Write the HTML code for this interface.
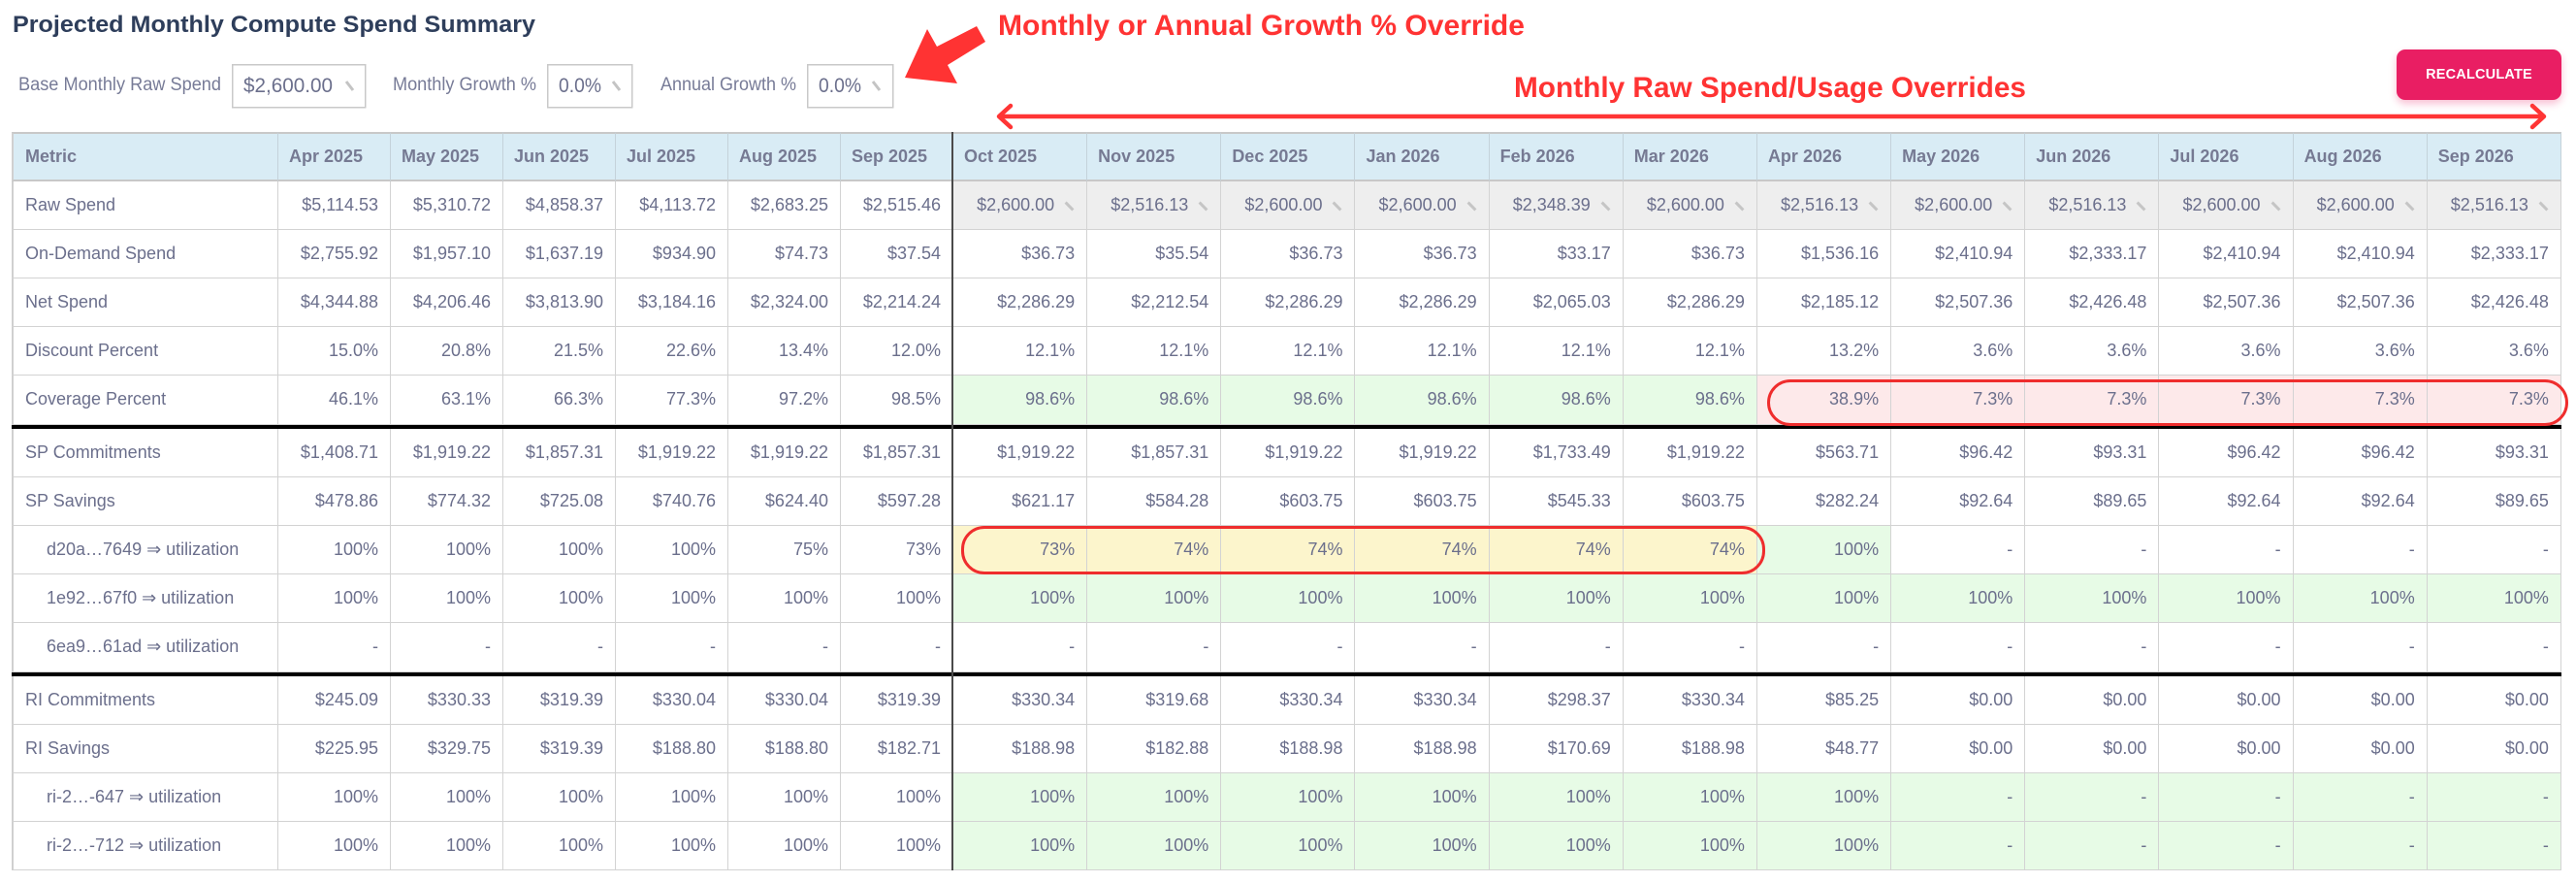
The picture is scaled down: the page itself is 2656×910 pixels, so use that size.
<!DOCTYPE html>
<html>
<head>
<meta charset="utf-8">
<style>
html,body{margin:0;padding:0;}
body{width:2656px;height:910px;position:relative;overflow:hidden;background:#fff;font-family:"Liberation Sans","DejaVu Sans",sans-serif;color:#6b6f8c;}
.r{position:absolute;left:12px;width:2629px;height:50px;display:flex;font-size:18px;}
.r>div{box-sizing:border-box;height:100%;border-right:1px solid #d3d3d3;border-bottom:1px solid #d3d3d3;text-align:right;padding-right:12px;line-height:49px;white-space:nowrap;overflow:hidden;flex:none;width:138.1667px;}
.r>div:nth-child(-n+7){width:116px;}
.r>div:first-child{width:275px;text-align:left;padding-left:12px;border-left:2px solid #d0d0d0;}
.r>div.in{padding-left:34px;}
.h{top:136px;height:51px;background:#d9ecf5;font-weight:bold;color:#767a93;}
.h>div{text-align:left;padding-left:11px;border-top:2px solid #c8c8c8;border-bottom:2px solid #c8c8c8;line-height:47px;border-right-color:#c4d2da;}
.g{background:#e7fbe6;}
.y{background:#fcf5cc;}
.p{background:#fde9ea;}
.k{background:#eeeeee;padding-right:16px!important;}
.k i{display:inline-block;width:3px;height:11px;background:#c5c5c5;transform:rotate(-45deg);margin-left:14px;vertical-align:-1px;}
.thick{position:absolute;left:12px;width:2629px;height:4px;background:#000;z-index:4;}
.vsep{position:absolute;left:981px;top:136px;width:2px;height:761px;background:#4a4a4a;z-index:4;}
.oval{position:absolute;box-sizing:border-box;border:3px solid #ef2d2d;border-radius:24px;z-index:5;}
.btn{position:absolute;left:2471px;top:51px;width:170px;height:52px;background:#e91e63;border-radius:9px;color:#fff;font-weight:bold;font-size:14.5px;line-height:52px;text-align:center;box-shadow:0 4px 8px rgba(233,30,99,0.28);letter-spacing:0.2px;}
svg.ov{position:absolute;left:0;top:0;z-index:10;}
</style>
</head>
<body>

<div class="btn">RECALCULATE</div>

<div class="r h">
<div>Metric</div><div>Apr 2025</div><div>May 2025</div><div>Jun 2025</div><div>Jul 2025</div><div>Aug 2025</div><div>Sep 2025</div><div>Oct 2025</div><div>Nov 2025</div><div>Dec 2025</div><div>Jan 2026</div><div>Feb 2026</div><div>Mar 2026</div><div>Apr 2026</div><div>May 2026</div><div>Jun 2026</div><div>Jul 2026</div><div>Aug 2026</div><div>Sep 2026</div>
</div>

<div class="r" style="top:187px">
<div>Raw Spend</div><div>$5,114.53</div><div>$5,310.72</div><div>$4,858.37</div><div>$4,113.72</div><div>$2,683.25</div><div>$2,515.46</div>
<div class="k">$2,600.00<i></i></div><div class="k">$2,516.13<i></i></div><div class="k">$2,600.00<i></i></div><div class="k">$2,600.00<i></i></div><div class="k">$2,348.39<i></i></div><div class="k">$2,600.00<i></i></div><div class="k">$2,516.13<i></i></div><div class="k">$2,600.00<i></i></div><div class="k">$2,516.13<i></i></div><div class="k">$2,600.00<i></i></div><div class="k">$2,600.00<i></i></div><div class="k">$2,516.13<i></i></div>
</div>

<div class="r" style="top:237px">
<div>On-Demand Spend</div><div>$2,755.92</div><div>$1,957.10</div><div>$1,637.19</div><div>$934.90</div><div>$74.73</div><div>$37.54</div>
<div>$36.73</div><div>$35.54</div><div>$36.73</div><div>$36.73</div><div>$33.17</div><div>$36.73</div><div>$1,536.16</div><div>$2,410.94</div><div>$2,333.17</div><div>$2,410.94</div><div>$2,410.94</div><div>$2,333.17</div>
</div>

<div class="r" style="top:287px">
<div>Net Spend</div><div>$4,344.88</div><div>$4,206.46</div><div>$3,813.90</div><div>$3,184.16</div><div>$2,324.00</div><div>$2,214.24</div>
<div>$2,286.29</div><div>$2,212.54</div><div>$2,286.29</div><div>$2,286.29</div><div>$2,065.03</div><div>$2,286.29</div><div>$2,185.12</div><div>$2,507.36</div><div>$2,426.48</div><div>$2,507.36</div><div>$2,507.36</div><div>$2,426.48</div>
</div>

<div class="r" style="top:337px">
<div>Discount Percent</div><div>15.0%</div><div>20.8%</div><div>21.5%</div><div>22.6%</div><div>13.4%</div><div>12.0%</div>
<div>12.1%</div><div>12.1%</div><div>12.1%</div><div>12.1%</div><div>12.1%</div><div>12.1%</div><div>13.2%</div><div>3.6%</div><div>3.6%</div><div>3.6%</div><div>3.6%</div><div>3.6%</div>
</div>

<div class="r" style="top:387px;height:51px">
<div>Coverage Percent</div><div>46.1%</div><div>63.1%</div><div>66.3%</div><div>77.3%</div><div>97.2%</div><div>98.5%</div>
<div class="g">98.6%</div><div class="g">98.6%</div><div class="g">98.6%</div><div class="g">98.6%</div><div class="g">98.6%</div><div class="g">98.6%</div><div class="p">38.9%</div><div class="p">7.3%</div><div class="p">7.3%</div><div class="p">7.3%</div><div class="p">7.3%</div><div class="p">7.3%</div>
</div>

<div class="thick" style="top:438px"></div>

<div class="r" style="top:442px">
<div>SP Commitments</div><div>$1,408.71</div><div>$1,919.22</div><div>$1,857.31</div><div>$1,919.22</div><div>$1,919.22</div><div>$1,857.31</div>
<div>$1,919.22</div><div>$1,857.31</div><div>$1,919.22</div><div>$1,919.22</div><div>$1,733.49</div><div>$1,919.22</div><div>$563.71</div><div>$96.42</div><div>$93.31</div><div>$96.42</div><div>$96.42</div><div>$93.31</div>
</div>

<div class="r" style="top:492px">
<div>SP Savings</div><div>$478.86</div><div>$774.32</div><div>$725.08</div><div>$740.76</div><div>$624.40</div><div>$597.28</div>
<div>$621.17</div><div>$584.28</div><div>$603.75</div><div>$603.75</div><div>$545.33</div><div>$603.75</div><div>$282.24</div><div>$92.64</div><div>$89.65</div><div>$92.64</div><div>$92.64</div><div>$89.65</div>
</div>

<div class="r" style="top:542px">
<div class="in">d20a…7649 ⇒ utilization</div><div>100%</div><div>100%</div><div>100%</div><div>100%</div><div>75%</div><div>73%</div>
<div class="y">73%</div><div class="y">74%</div><div class="y">74%</div><div class="y">74%</div><div class="y">74%</div><div class="y">74%</div><div class="g">100%</div><div>-</div><div>-</div><div>-</div><div>-</div><div>-</div>
</div>

<div class="r" style="top:592px">
<div class="in">1e92…67f0 ⇒ utilization</div><div>100%</div><div>100%</div><div>100%</div><div>100%</div><div>100%</div><div>100%</div>
<div class="g">100%</div><div class="g">100%</div><div class="g">100%</div><div class="g">100%</div><div class="g">100%</div><div class="g">100%</div><div class="g">100%</div><div class="g">100%</div><div class="g">100%</div><div class="g">100%</div><div class="g">100%</div><div class="g">100%</div>
</div>

<div class="r" style="top:642px;height:51px">
<div class="in">6ea9…61ad ⇒ utilization</div><div>-</div><div>-</div><div>-</div><div>-</div><div>-</div><div>-</div>
<div>-</div><div>-</div><div>-</div><div>-</div><div>-</div><div>-</div><div>-</div><div>-</div><div>-</div><div>-</div><div>-</div><div>-</div>
</div>

<div class="thick" style="top:693px"></div>

<div class="r" style="top:697px">
<div>RI Commitments</div><div>$245.09</div><div>$330.33</div><div>$319.39</div><div>$330.04</div><div>$330.04</div><div>$319.39</div>
<div>$330.34</div><div>$319.68</div><div>$330.34</div><div>$330.34</div><div>$298.37</div><div>$330.34</div><div>$85.25</div><div>$0.00</div><div>$0.00</div><div>$0.00</div><div>$0.00</div><div>$0.00</div>
</div>

<div class="r" style="top:747px">
<div>RI Savings</div><div>$225.95</div><div>$329.75</div><div>$319.39</div><div>$188.80</div><div>$188.80</div><div>$182.71</div>
<div>$188.98</div><div>$182.88</div><div>$188.98</div><div>$188.98</div><div>$170.69</div><div>$188.98</div><div>$48.77</div><div>$0.00</div><div>$0.00</div><div>$0.00</div><div>$0.00</div><div>$0.00</div>
</div>

<div class="r" style="top:797px">
<div class="in">ri-2…-647 ⇒ utilization</div><div>100%</div><div>100%</div><div>100%</div><div>100%</div><div>100%</div><div>100%</div>
<div class="g">100%</div><div class="g">100%</div><div class="g">100%</div><div class="g">100%</div><div class="g">100%</div><div class="g">100%</div><div class="g">100%</div><div class="g">-</div><div class="g">-</div><div class="g">-</div><div class="g">-</div><div class="g">-</div>
</div>

<div class="r" style="top:847px">
<div class="in">ri-2…-712 ⇒ utilization</div><div>100%</div><div>100%</div><div>100%</div><div>100%</div><div>100%</div><div>100%</div>
<div class="g">100%</div><div class="g">100%</div><div class="g">100%</div><div class="g">100%</div><div class="g">100%</div><div class="g">100%</div><div class="g">100%</div><div class="g">-</div><div class="g">-</div><div class="g">-</div><div class="g">-</div><div class="g">-</div>
</div>

<div class="vsep"></div>

<div class="oval" style="left:1822px;top:391px;width:826px;height:48px;"></div>
<div class="oval" style="left:991px;top:542px;width:829px;height:50px;"></div>

<svg class="ov" width="2656" height="910" viewBox="0 0 2656 910" xmlns="http://www.w3.org/2000/svg">
  <text x="13" y="33" font-family="Liberation Sans, sans-serif" font-size="24.5" font-weight="bold" fill="#2e3e5b" textLength="539" lengthAdjust="spacingAndGlyphs">Projected Monthly Compute Spend Summary</text>

  <text x="19" y="93" font-family="Liberation Sans, sans-serif" font-size="19" fill="#777b97" textLength="209" lengthAdjust="spacingAndGlyphs">Base Monthly Raw Spend</text>
  <rect x="239.75" y="66.75" width="137" height="44" fill="none" stroke="#c9c9c9" stroke-width="1.5"/>
  <text x="251" y="95" font-family="Liberation Sans, sans-serif" font-size="21.5" fill="#6b6f8c" textLength="92" lengthAdjust="spacingAndGlyphs">$2,600.00</text>
  <line x1="357" y1="84" x2="364" y2="93" stroke="#c4c4c4" stroke-width="3"/>

  <text x="405" y="93" font-family="Liberation Sans, sans-serif" font-size="19" fill="#777b97" textLength="148" lengthAdjust="spacingAndGlyphs">Monthly Growth %</text>
  <rect x="564.75" y="66.75" width="87" height="44" fill="none" stroke="#c9c9c9" stroke-width="1.5"/>
  <text x="576" y="95" font-family="Liberation Sans, sans-serif" font-size="21.5" fill="#6b6f8c" textLength="44" lengthAdjust="spacingAndGlyphs">0.0%</text>
  <line x1="632" y1="84" x2="639" y2="93" stroke="#c4c4c4" stroke-width="3"/>

  <text x="681" y="93" font-family="Liberation Sans, sans-serif" font-size="19" fill="#777b97" textLength="140" lengthAdjust="spacingAndGlyphs">Annual Growth %</text>
  <rect x="832.75" y="66.75" width="88" height="44" fill="none" stroke="#c9c9c9" stroke-width="1.5"/>
  <text x="844" y="95" font-family="Liberation Sans, sans-serif" font-size="21.5" fill="#6b6f8c" textLength="44" lengthAdjust="spacingAndGlyphs">0.0%</text>
  <line x1="900" y1="84" x2="907" y2="93" stroke="#c4c4c4" stroke-width="3"/>

  <polygon points="933,80 956,30 966,48 1007,27 1016,43 977,67 987,86" fill="#ff3333"/>

  <text x="1029" y="36" font-family="Liberation Sans, sans-serif" font-size="30" font-weight="bold" fill="#ff3333" textLength="543" lengthAdjust="spacingAndGlyphs">Monthly or Annual Growth % Override</text>
  <text x="1561" y="100" font-family="Liberation Sans, sans-serif" font-size="30" font-weight="bold" fill="#ff3333" textLength="528" lengthAdjust="spacingAndGlyphs">Monthly Raw Spend/Usage Overrides</text>

  <line x1="1031" y1="120" x2="2622" y2="120" stroke="#ff3535" stroke-width="4.5" stroke-linecap="round"/>
  <polyline points="1042,109 1030,120 1042,131" fill="none" stroke="#ff3535" stroke-width="4.5" stroke-linecap="round" stroke-linejoin="round"/>
  <polyline points="2611,109 2623,120 2611,131" fill="none" stroke="#ff3535" stroke-width="4.5" stroke-linecap="round" stroke-linejoin="round"/>
</svg>

</body>
</html>
